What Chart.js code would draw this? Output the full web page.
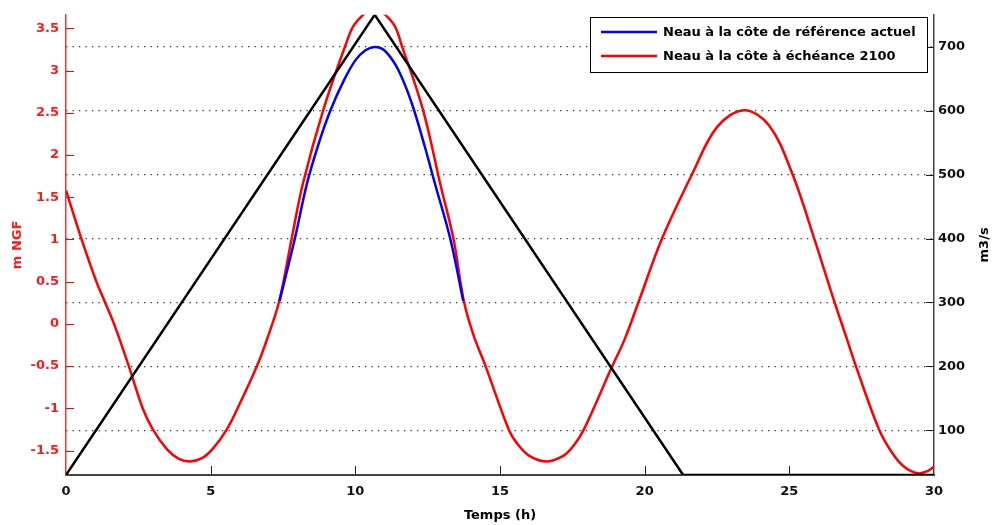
<!DOCTYPE html>
<html>
<head>
<meta charset="utf-8">
<script src="https://cdn.jsdelivr.net/npm/chart.js@4/dist/chart.umd.min.js"></script>
<style>
  html, body { margin: 0; padding: 0; background: #fff; }
  #wrap { width: 995px; height: 525px; position: relative; }
</style>
</head>
<body>
<div id="wrap"><canvas id="tideChart"></canvas></div>
<script>
// water level, current reference (m NGF)
const blueT = [7.38, 7.91, 8.32, 8.7, 9.13, 9.6, 10.0, 10.35, 10.68, 11.0, 11.4, 11.75, 12.04, 12.4, 12.76, 13.28, 13.73];
const blueV = [0.27, 1.01, 1.65, 2.1, 2.52, 2.88, 3.12, 3.24, 3.28, 3.24, 3.06, 2.8, 2.52, 2.1, 1.65, 1.01, 0.27];

// water level, 2100 horizon (m NGF)
const redT = [0, 0.53, 1.05, 1.33, 1.66, 2.17, 2.65, 3.0, 3.5, 3.9, 4.28, 4.7, 5.07, 5.56, 6.0, 6.6, 6.93, 7.37, 7.8, 8.18, 8.88, 9.65, 10.0, 10.65, 11.3, 11.61, 12.35, 12.94, 13.39, 13.75, 14.08, 14.5, 15.3, 15.6, 16.0, 16.6, 17.2, 17.55, 17.9, 18.88, 19.3, 19.8, 20.6, 21.65, 22.5, 23.43, 24.3, 25.1, 25.86, 26.55, 27.0, 27.3, 28.1, 28.6, 29.0, 29.46, 29.8, 30];
const redV = [1.58, 1.01, 0.5, 0.27, 0.0, -0.5, -1.0, -1.25, -1.49, -1.6, -1.63, -1.59, -1.48, -1.25, -0.95, -0.5, -0.2, 0.27, 1.01, 1.65, 2.52, 3.29, 3.56, 3.72, 3.56, 3.29, 2.52, 1.65, 1.01, 0.27, -0.13, -0.5, -1.25, -1.42, -1.56, -1.63, -1.56, -1.44, -1.25, -0.5, -0.19, 0.27, 1.01, 1.78, 2.33, 2.53, 2.35, 1.78, 1.01, 0.27, -0.19, -0.5, -1.25, -1.55, -1.7, -1.77, -1.74, -1.69];

// river flow (m3/s)
const flowT = [0, 10.67, 21.33, 30];
const flowV = [30, 750, 30, 30];

const xTicks = [0, 5, 10, 15, 20, 25, 30];
const yTicks = [-1.5, -1, -0.5, 0, 0.5, 1, 1.5, 2, 2.5, 3, 3.5];
const y2Ticks = [100, 200, 300, 400, 500, 600, 700];

const labelBlue = 'Neau à la côte de référence actuel';
const labelRed = 'Neau à la côte à échéance 2100';

function pts(t, v) {
    return t.map((x, i) => ({ x: x, y: v[i] }));
}

const boldFont = { family: 'DejaVu Sans', size: 13, weight: 'bold' };
const titleFont = { family: 'DejaVu Sans', size: 13, weight: 'bold' };

// tick marks drawn inside the plot, MATLAB style
const insideTicks = {
    id: 'insideTicks',
    afterDatasetsDraw(chart) {
        const ctx = chart.ctx;
        const area = chart.chartArea;
        const sx = chart.scales.x, sy = chart.scales.y, sy2 = chart.scales.y2;
        ctx.save();
        ctx.lineWidth = 1;
        ctx.strokeStyle = '#222';
        xTicks.forEach(v => {
            if (v === xTicks[0] || v === xTicks[xTicks.length - 1]) return;
            const px = Math.round(sx.getPixelForValue(v)) + 0.5;
            ctx.beginPath();
            ctx.moveTo(px, area.bottom);
            ctx.lineTo(px, area.bottom - 9);
            ctx.stroke();
        });
        y2Ticks.forEach(v => {
            const py = Math.round(sy2.getPixelForValue(v)) + 0.5;
            ctx.beginPath();
            ctx.moveTo(area.right, py);
            ctx.lineTo(area.right - 8, py);
            ctx.stroke();
        });
        ctx.strokeStyle = 'red';
        yTicks.forEach(v => {
            const py = Math.round(sy.getPixelForValue(v)) + 0.5;
            ctx.beginPath();
            ctx.moveTo(area.left, py);
            ctx.lineTo(area.left + 8, py);
            ctx.stroke();
        });
        ctx.restore();
    }
};

// boxed legend in the upper right, plus the right axis title
const boxLegend = {
    id: 'boxLegend',
    afterDraw(chart) {
        const ctx = chart.ctx;
        const items = chart.data.datasets.filter(d => d.inLegend);
        const x0 = 590, y0 = 17, w = 337, h = 55;
        ctx.save();
        ctx.fillStyle = '#fff';
        ctx.fillRect(x0, y0, w, h);
        ctx.strokeStyle = '#000';
        ctx.lineWidth = 1;
        ctx.strokeRect(x0 + 0.5, y0 + 0.5, w, h);
        ctx.font = 'bold 13px "DejaVu Sans"';
        ctx.textBaseline = 'middle';
        items.forEach((d, i) => {
            const yy = y0 + 15 + i * 24;
            ctx.strokeStyle = d.borderColor;
            ctx.lineWidth = 2.5;
            ctx.beginPath();
            ctx.moveTo(601, yy);
            ctx.lineTo(657, yy);
            ctx.stroke();
            ctx.fillStyle = '#000';
            ctx.fillText(d.label, 663, yy + 1);
        });
        // right axis title, reading bottom to top
        ctx.translate(985, chart.chartArea.top + (chart.chartArea.bottom - chart.chartArea.top) / 2);
        ctx.rotate(-Math.PI / 2);
        ctx.textAlign = 'center';
        ctx.fillStyle = '#000';
        ctx.fillText('m3/s', 0, 0);
        ctx.restore();
    }
};

const ctx = document.getElementById('tideChart').getContext('2d');
new Chart(ctx, {
    type: 'line',
    data: {
        datasets: [
            {
                label: 'Débit',
                data: pts(flowT, flowV),
                yAxisID: 'y2',
                borderColor: '#000',
                borderWidth: 2.5,
                pointRadius: 0,
                tension: 0,
                inLegend: false
            },
            {
                label: labelBlue,
                data: pts(blueT, blueV),
                yAxisID: 'y',
                borderColor: '#0000ff',
                borderWidth: 2.5,
                pointRadius: 0,
                tension: 0.35,
                inLegend: true
            },
            {
                label: labelRed,
                data: pts(redT, redV),
                yAxisID: 'y',
                borderColor: '#ff0000',
                borderWidth: 2.5,
                pointRadius: 0,
                tension: 0.35,
                inLegend: true
            }
        ]
    },
    options: {
        responsive: true,
        maintainAspectRatio: false,
        animation: false,
        layout: { padding: { top: 7, right: 0, left: 0, bottom: 0 } },
        plugins: {
            legend: { display: false },
            tooltip: { enabled: false }
        },
        scales: {
            x: {
                type: 'linear',
                min: 0,
                max: 30,
                afterBuildTicks: s => { s.ticks = xTicks.map(v => ({ value: v })); },
                afterFit: s => { s.height = 50; },
                grid: { display: false, drawTicks: false },
                border: { display: true, color: '#444', width: 2 },
                ticks: { color: '#111', font: boldFont, padding: 9, maxRotation: 0, callback: v => String(v) },
                title: {
                    display: true,
                    text: 'Temps (h)',
                    color: '#000',
                    font: titleFont,
                    padding: { top: 0, bottom: 2 }
                }
            },
            y: {
                type: 'linear',
                position: 'left',
                min: -1.79,
                max: 3.66,
                afterBuildTicks: s => { s.ticks = yTicks.map(v => ({ value: v })); },
                afterFit: s => { s.width = 66; },
                grid: { display: false, drawTicks: false },
                border: { display: true, color: '#ff3030', width: 1.5 },
                ticks: { color: '#ff1a1a', font: boldFont, padding: 7, callback: v => String(v) },
                title: {
                    display: true,
                    text: 'm NGF',
                    color: '#ff1a1a',
                    font: titleFont,
                    padding: { top: 10, bottom: 0 }
                }
            },
            y2: {
                type: 'linear',
                position: 'right',
                min: 30,
                max: 750,
                afterBuildTicks: s => { s.ticks = y2Ticks.map(v => ({ value: v })); },
                afterFit: s => { s.width = 61; },
                grid: { display: true, drawOnChartArea: true, drawTicks: false, color: '#333', lineWidth: 1.3 },
                border: { display: true, color: '#444', width: 1.5, dash: [1.3, 5.2] },
                ticks: { color: '#111', font: boldFont, padding: 4, callback: v => String(v) }
            }
        }
    },
    plugins: [insideTicks, boxLegend]
});
</script>
</body>
</html>
